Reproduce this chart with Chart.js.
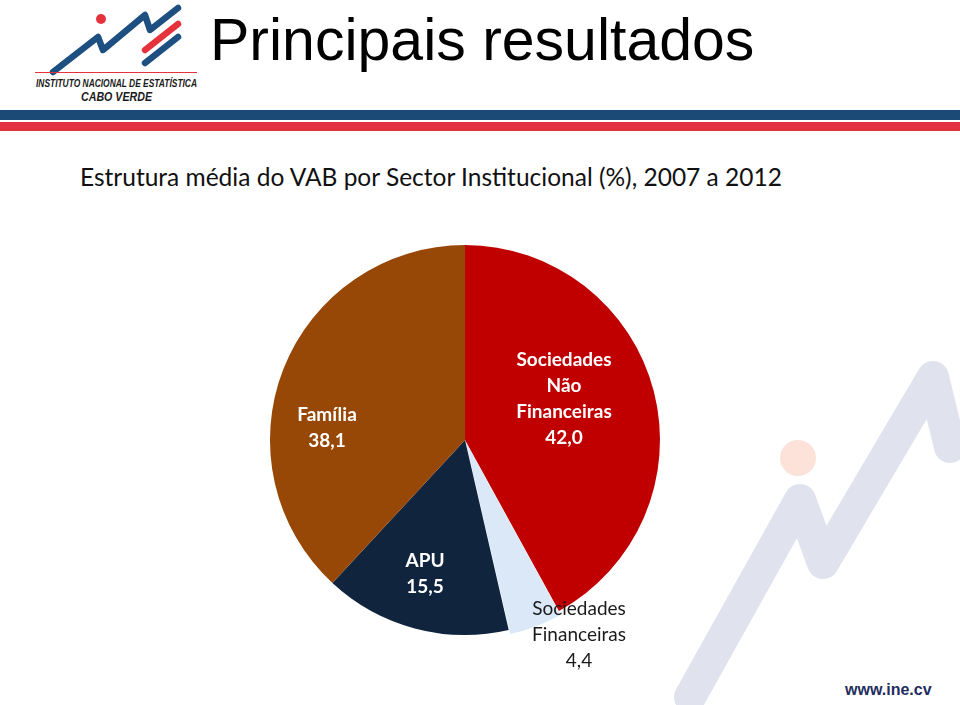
<!DOCTYPE html>
<html lang="pt">
<head>
  <meta charset="UTF-8">
  <title>Principais resultados</title>
  <script src="https://cdn.jsdelivr.net/npm/chart.js"></script>
  <style>
    body { margin: 0; width: 960px; height: 705px; overflow: hidden; background: #fff; position: relative; font-family: 'Liberation Sans', Arial, sans-serif; }
    #bg { position: absolute; left: 0; top: 0; }
    h1 { position: absolute; left: 210px; top: 6px; margin: 0; font-weight: normal; font-size: 59px; color: #000; }
    .sub { position: absolute; left: 80px; top: 162px; font-family: Lato, sans-serif; font-size: 24.5px; color: #111; }
    .web { position: absolute; left: 845px; top: 681px; font-weight: bold; font-size: 16px; color: #1f2d5e; }
    #wrap { position: absolute; left: 0; top: 0; width: 960px; height: 705px; }
  </style>
</head>
<body>
  <svg id="bg" width="960" height="705">
    <!-- watermark -->
    <polyline points="690,697 800,500 823,563 933,377 950,447" fill="none" stroke="#e0e3ed" stroke-width="32" stroke-linecap="round" stroke-linejoin="round"/>
    <circle cx="798" cy="458" r="18" fill="#fce2d8"/>
    <!-- logo -->
    <polyline points="53,72 98,37 103,50 145,15 150,30 178,8" fill="none" stroke="#1d4f80" stroke-width="6.5" stroke-linecap="round" stroke-linejoin="round"/>
    <line x1="145" y1="50" x2="178" y2="24" stroke="#e5333d" stroke-width="6.5" stroke-linecap="round"/>
    <line x1="145" y1="63" x2="178" y2="37" stroke="#1d4f80" stroke-width="6.5" stroke-linecap="round"/>
    <circle cx="101" cy="19" r="5" fill="#e5333d"/>
    <line x1="35" y1="72.5" x2="197" y2="72.5" stroke="#e5333d" stroke-width="1.2"/>
    <text x="36" y="86.5" font-family="Liberation Sans" font-weight="bold" font-style="italic" font-size="11.5" fill="#1a1a1a" textLength="161" lengthAdjust="spacingAndGlyphs">INSTITUTO NACIONAL DE ESTATÍSTICA</text>
    <text x="81" y="100.5" font-family="Liberation Sans" font-weight="bold" font-style="italic" font-size="13" fill="#1a1a1a" textLength="71" lengthAdjust="spacingAndGlyphs">CABO VERDE</text>
    <!-- stripes -->
    <rect x="0" y="110" width="960" height="10" fill="#1b4a76"/>
    <rect x="0" y="122" width="960" height="9" fill="#e2323f"/>
  </svg>
  <h1>Principais resultados</h1>
  <div class="sub">Estrutura média do VAB por Sector Institucional (%), 2007 a 2012</div>
  <div class="web">www.ine.cv</div>
  <div id="wrap"><canvas id="pie" width="960" height="705"></canvas></div>

  <script>
    const categories = [
      ['Sociedades', 'Não', 'Financeiras'],
      ['Sociedades', 'Financeiras'],
      ['APU'],
      ['Família']
    ];
    const shares = [42.0, 4.4, 15.5, 38.1];
    const sliceColors = ['#c00000', '#dbe8f8', '#10243e', '#974706'];

    // label placement relative to pie centre, plus style per slice
    const labelStyle = [
      { dx: 99, dy: -41, color: '#fff', bold: true },
      { dx: 114, dy: 195, color: '#1a1a1a', bold: false },
      { dx: -40, dy: 134, color: '#fff', bold: true },
      { dx: -138, dy: -12, color: '#fff', bold: true }
    ];

    const sliceLabels = {
      id: 'sliceLabels',
      afterDatasetsDraw(chart) {
        const ctx = chart.ctx;
        const meta = chart.getDatasetMeta(0);
        ctx.save();
        ctx.textAlign = 'center';
        ctx.textBaseline = 'middle';
        meta.data.forEach((arc, i) => {
          const st = labelStyle[i];
          const lines = categories[i].concat([shares[i].toFixed(1).replace('.', ',')]);
          const lh = 26;
          const cx = arc.x + st.dx;
          const cy = arc.y + st.dy;
          ctx.fillStyle = st.color;
          ctx.font = (st.bold ? 'bold ' : '') + '19px Lato, sans-serif';
          lines.forEach((t, k) => {
            ctx.fillText(t, cx, cy + (k - (lines.length - 1) / 2) * lh);
          });
        });
        ctx.restore();
      }
    };

    new Chart(document.getElementById('pie'), {
      type: 'pie',
      data: {
        labels: categories.map(c => c.join(' ')),
        datasets: [{
          data: shares,
          backgroundColor: sliceColors,
          borderWidth: 0,
          offset: [0, 10, 0, 0]
        }]
      },
      options: {
        responsive: false,
        animation: false,
        layout: { padding: { left: 265, top: 240, right: 295, bottom: 65 } },
        plugins: {
          legend: { display: false },
          tooltip: { enabled: false }
        }
      },
      plugins: [sliceLabels]
    });
  </script>
</body>
</html>
